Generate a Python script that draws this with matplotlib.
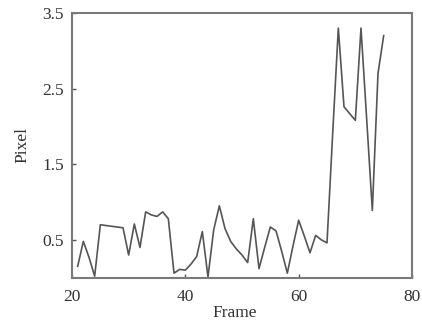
import matplotlib
matplotlib.use("Agg")
import matplotlib.pyplot as plt

frames = list(range(21, 76))
pixel = [0.15, 0.48, 0.27, 0.02, 0.70, 0.69, 0.68, 0.67, 0.66, 0.30,
         0.71, 0.40, 0.87, 0.83, 0.81, 0.87, 0.78, 0.06, 0.11, 0.10,
         0.18, 0.28, 0.61, 0.01, 0.63, 0.95, 0.65, 0.48, 0.38, 0.30,
         0.20, 0.78, 0.12, 0.40, 0.67, 0.62, 0.35, 0.06, 0.42, 0.76,
         0.55, 0.33, 0.56, 0.50, 0.46, 1.90, 3.30, 2.26, 2.17, 2.08,
         3.30, 2.10, 0.89, 2.70, 3.20]
xticks = [20, 40, 60, 80]
yticks = [0.5, 1.5, 2.5, 3.5]

plt.rcParams['font.family'] = ['Liberation Serif', 'DejaVu Serif']

fig = plt.figure(figsize=(4.22, 3.2), dpi=100)
ax = fig.add_axes([0.1706, 0.1322, 0.8057, 0.8272])
ax.plot(frames, pixel, color='#555555', lw=1.2)
ax.set_xlim(20, 80)
ax.set_ylim(0, 3.5)
ax.set_xticks(xticks)
ax.set_yticks(yticks)
ax.set_yticklabels([f"{v:.1f}" for v in yticks])
for s in ax.spines.values():
    s.set_color('#7a7a7a')
    s.set_linewidth(1.5)
ax.tick_params(direction='in', length=3, width=1, color='#555555',
               labelsize=12.5, labelcolor='#333333')
ax.tick_params(axis='x', pad=8)
ax.tick_params(axis='y', pad=6)
ax.set_xlabel('Frame', fontsize=12.5, color='#333333', va='top')
ax.set_ylabel('Pixel', fontsize=12.5, color='#333333', va='center')
ax.xaxis.set_label_coords(0.479, -0.104)
ax.yaxis.set_label_coords(-0.147, 0.5)
fig.savefig('out.png', dpi=100)
